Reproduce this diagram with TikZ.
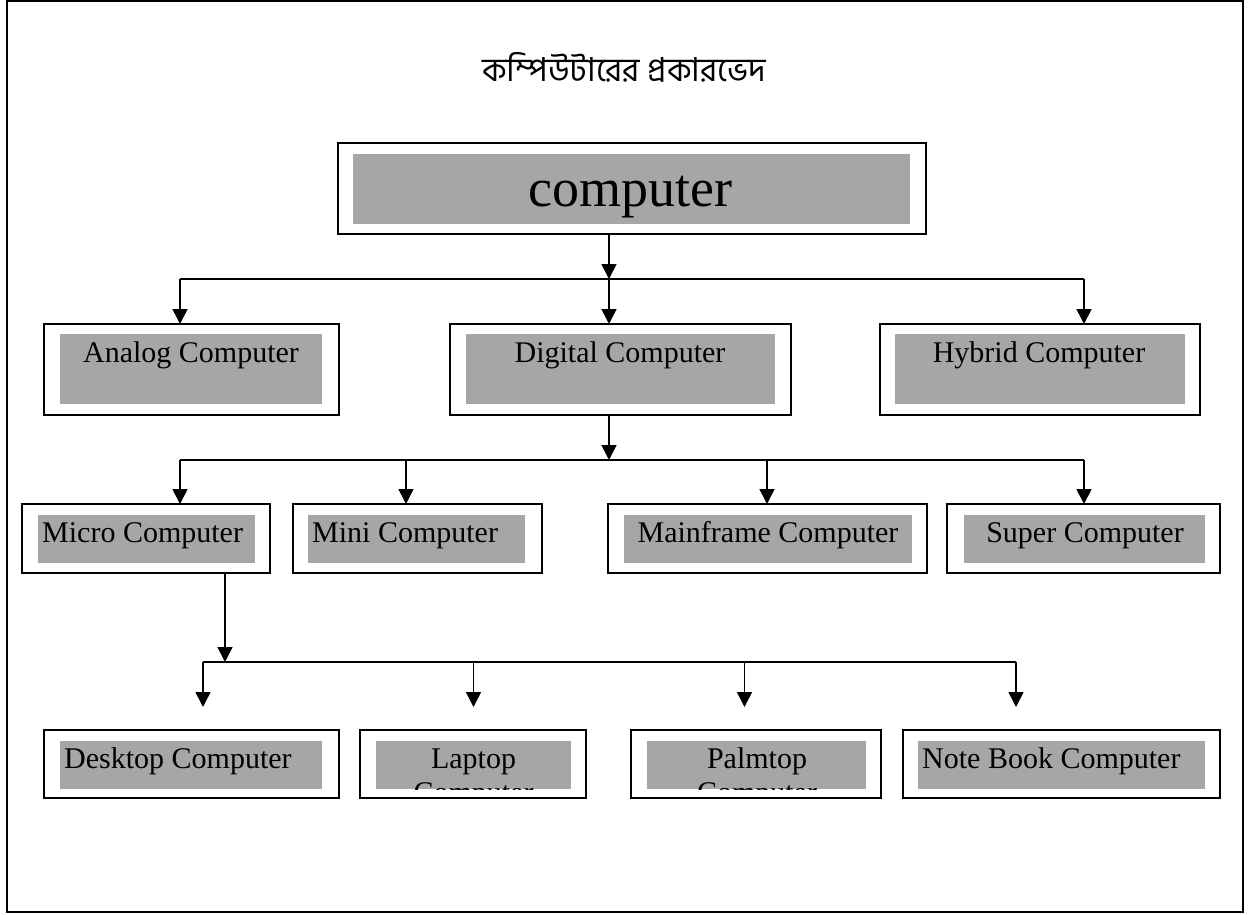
\documentclass[tikz,border=0pt]{standalone}
\usepackage{fontspec}
\setmainfont{Liberation Serif}
\newfontfamily\bnfont[Script=Bengali]{Hind Siliguri}
\usetikzlibrary{arrows.meta}
\definecolor{boxgray}{HTML}{A6A6A6}
\tikzset{
  outerbox/.style={draw=black, line width=1.6pt, fill=white, inner sep=0pt, outer sep=0pt},
  graybox/.style={fill=boxgray, draw=none, inner sep=0pt, outer sep=0pt},
  lbl/.style={font=\fontsize{30}{34}\selectfont, inner sep=0pt, anchor=base},
  lblw/.style={lbl, anchor=base west},
  conn/.style={line width=1.6pt},
  arr/.style={conn, -{Triangle[width=15pt,length=15pt]}},
  frame/.style={draw=black, line width=2.4pt}
}
\newcommand\mkbox[9]{%
  \node[outerbox, minimum width={(#4-#2)*1pt}, minimum height={(#5-#3)*1pt}] (#1) at ({(#2+#4)/2},{(#3+#5)/2}) {};
  \node[graybox, minimum width={(#8-#6)*1pt}, minimum height={(#9-#7)*1pt}] (#1g) at ({(#6+#8)/2},{(#7+#9)/2}) {};
}
\begin{document}
\begin{tikzpicture}[x=1pt,y=-1pt]
\useasboundingbox (0,0) rectangle (1253,914);
\draw[frame] (7,1) rectangle (1243,912);

\node[font=\bnfont\fontsize{33}{38}\selectfont, inner sep=0pt, anchor=base] (title) at (624,81) {কম্পিউটারের প্রকারভেদ};

\mkbox{computer}{338}{143}{926}{234}{353}{154}{910}{224}
\node[font=\fontsize{54}{60}\selectfont, inner sep=0pt, anchor=base] (computert) at (630,206) {computer};

\mkbox{analog}{44}{324}{339}{415}{60}{334}{322}{404}
\mkbox{digital}{450}{324}{791}{415}{466}{334}{775}{404}
\mkbox{hybrid}{880}{324}{1200}{415}{895}{334}{1185}{404}
\node[lbl] (analogt) at (191,362) {Analog Computer};
\node[lbl] (digitalt) at (620,362) {Digital Computer};
\node[lbl] (hybridt) at (1039,362) {Hybrid Computer};

\mkbox{micro}{22}{504}{270}{573}{38}{515}{255}{563}
\mkbox{mini}{293}{504}{542}{573}{308}{515}{525}{563}
\mkbox{mainframe}{608}{504}{927}{573}{624}{515}{912}{563}
\mkbox{super}{947}{504}{1220}{573}{964}{515}{1205}{563}
\node[lblw] (microt) at (42,542) {Micro Computer};
\node[lblw] (minit) at (312,542) {Mini Computer};
\node[lbl] (mainframet) at (768,542) {Mainframe Computer};
\node[lbl] (supert) at (1085,542) {Super Computer};

\mkbox{desktop}{44}{730}{339}{798}{60}{741}{322}{789}
\mkbox{laptop}{360}{730}{586}{798}{376}{741}{571}{789}
\mkbox{palmtop}{631}{730}{881}{798}{647}{741}{866}{789}
\mkbox{notebook}{903}{730}{1220}{798}{918}{741}{1205}{789}
\node[lblw] (desktopt) at (64,768) {Desktop Computer};
\begin{scope}
  \clip (376,741) rectangle (571,789);
  \node[lbl] (laptopt) at (473.5,768) {Laptop};
  \node[lbl] (laptopt2) at (473.5,802) {Computer};
\end{scope}
\begin{scope}
  \clip (647,741) rectangle (866,789);
  \node[lbl] (palmtopt) at (757,768) {Palmtop};
  \node[lbl] (palmtopt2) at (757,802) {Computer};
\end{scope}
\node[lblw] (notebookt) at (922,768) {Note Book Computer};

% level 1 -> 2
\coordinate (j1) at (609,279);
\coordinate (jA) at (180,279);
\coordinate (jH) at (1084,279);
\draw[arr] (computer.south -| j1) -- (j1);
\draw[conn] (jA) -- (jH);
\draw[arr] (jA) -- (jA |- analog.north);
\draw[arr] (j1) -- (j1 |- digital.north);
\draw[arr] (jH) -- (jH |- hybrid.north);

% level 2 -> 3
\coordinate (j2) at (609,460);
\coordinate (jM) at (180,460);
\coordinate (jN) at (406,460);
\coordinate (jF) at (767,460);
\coordinate (jS) at (1084,460);
\draw[arr] (digital.south -| j2) -- (j2);
\draw[conn] (jM) -- (jS);
\draw[arr] (jM) -- (jM |- micro.north);
\draw[arr] (jN) -- (jN |- mini.north);
\draw[arr] (jF) -- (jF |- mainframe.north);
\draw[arr] (jS) -- (jS |- super.north);

% level 3 -> 4
\coordinate (j3) at (225,662);
\coordinate (jD) at (203,662);
\coordinate (jL) at (473.5,662);
\coordinate (jP) at (744.5,662);
\coordinate (jB) at (1016,662);
\coordinate (eD) at (203,707);
\coordinate (eL) at (473.5,707);
\coordinate (eP) at (744.5,707);
\coordinate (eB) at (1016,707);
\draw[arr] (micro.south -| j3) -- (j3);
\draw[conn] (jD) -- (jB);
\draw[arr] (jD) -- (eD);
\draw[arr] (jL) -- (eL);
\draw[arr] (jP) -- (eP);
\draw[arr] (jB) -- (eB);
\end{tikzpicture}
\end{document}
